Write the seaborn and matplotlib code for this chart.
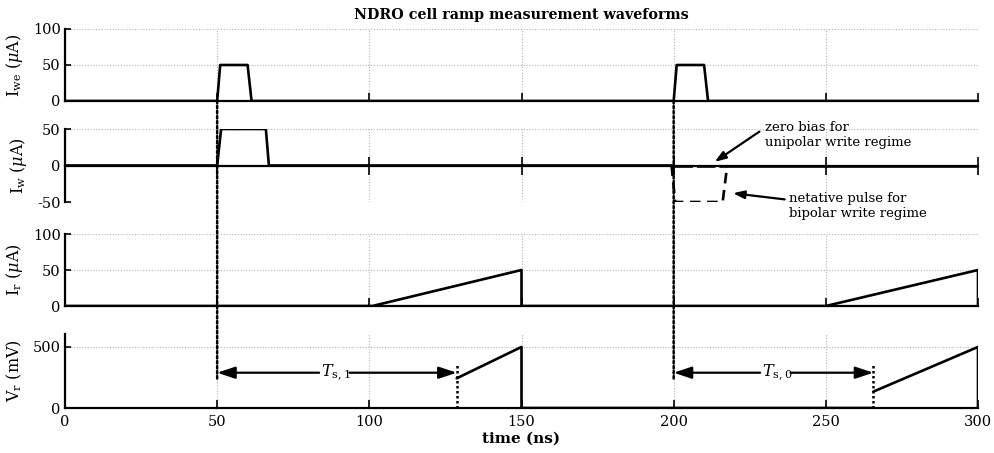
import numpy as np
import pandas as pd
import matplotlib
matplotlib.use("Agg")
import matplotlib.pyplot as plt
from matplotlib.patches import ConnectionPatch
import seaborn as sns

# ---- waveform data (time in ns) ----
t_we = [0, 50, 51, 60, 61.3, 200, 201, 210, 211.3, 300]
i_we = [0, 0, 50, 50, 0, 0, 50, 50, 0, 0]

t_w_a = [0, 50, 51.3, 66, 67, 200]
i_w_a = [0, 0, 50, 50, 0, 0]
t_w_b = [217.6, 300]
i_w_b = [0, 0]

t_w_zero = [200, 217.6]
i_w_zero = [0, 0]
t_w_neg = [199.3, 200.5, 216.1, 217.6]
i_w_neg = [0, -50, -50, 0]

t_r = [0, 101, 150, 150, 250, 300, 300]
i_r = [0, 0, 50, 0, 0, 50, 0]

t_v = [0, 128.7, 128.7, 150, 150, 265.6, 265.6, 300, 300]
v_r = [0, 0, 243, 500, 0, 0, 134, 500, 0]
seg_v = [0, 0, 1, 1, 1, 1, 2, 2, 2]

t_sense = [128.7, 265.6]
sense_labels = [r"$T_{\mathrm{s,1}}$", r"$T_{\mathrm{s,0}}$"]
label_pos = [89, 233.9]
t_write = [50, 200]

x_ticks = [0, 50, 100, 150, 200, 250, 300]

sns.set_theme(style="white")
plt.rcParams["font.family"] = ["DejaVu Serif"]
plt.rcParams["mathtext.fontset"] = "dejavuserif"
for key in ("text.color", "axes.labelcolor", "xtick.color", "ytick.color"):
    plt.rcParams[key] = "black"

fig = plt.figure(figsize=(9.94, 4.53), dpi=100)
W, H = 994, 453


def add_ax(top_px, bot_px):
    left, right = 65, 978
    return fig.add_axes([left / W, 1 - bot_px / H, (right - left) / W, (bot_px - top_px) / H])


ax1 = add_ax(29, 101)
ax2 = add_ax(129, 202)
ax3 = add_ax(234, 306)
ax4 = add_ax(334, 408)
axes = [ax1, ax2, ax3, ax4]

line_kw = dict(color="black", linewidth=1.9, estimator=None, sort=False, legend=False)

sns.lineplot(x=t_we, y=i_we, ax=ax1, **line_kw)

sns.lineplot(x=t_w_a, y=i_w_a, ax=ax2, **line_kw)
sns.lineplot(x=t_w_b, y=i_w_b, ax=ax2, **line_kw)
sns.lineplot(x=t_w_zero, y=i_w_zero, ax=ax2, color="black", linewidth=1.9,
             estimator=None, sort=False, legend=False, linestyle=(0, (7, 1.5)))
sns.lineplot(x=t_w_neg, y=i_w_neg, ax=ax2, color="black", linewidth=1.9,
             estimator=None, sort=False, legend=False, linestyle=(0, (4, 2.5)))

sns.lineplot(x=t_r, y=i_r, ax=ax3, **line_kw)

df_v = pd.DataFrame({"t": t_v, "v": v_r, "seg": seg_v})
for s in (0, 1, 2):
    sns.lineplot(data=df_v[df_v.seg == s], x="t", y="v", ax=ax4, **line_kw)

ylims = [(0, 100), (-50, 50), (0, 100), (0, 606)]
yticks = [[0, 50, 100], [-50, 0, 50], [0, 50, 100], [0, 500]]
ylabels = [r"I$_{\mathrm{we}}$ ($\mu$A)", r"I$_{\mathrm{w}}$ ($\mu$A)",
           r"I$_{\mathrm{r}}$ ($\mu$A)", r"V$_{\mathrm{r}}$ (mV)"]

for i, ax in enumerate(axes):
    ax.set_xlim(0, 300)
    ax.set_ylim(*ylims[i])
    ax.set_xticks(x_ticks)
    ax.set_yticks(yticks[i])
    ax.set_yticklabels([str(v) for v in yticks[i]], fontsize=10.5)
    ax.grid(True, color="#b5b5b5", linestyle=(0, (1, 1.5)), linewidth=0.8)
    ax.set_axisbelow(True)
    for side in ("top", "right"):
        ax.spines[side].set_visible(False)
    ax.spines["left"].set_color("black")
    ax.spines["left"].set_linewidth(1.6)
    ax.spines["bottom"].set_position(("data", 0))
    ax.spines["bottom"].set_color("black")
    ax.spines["bottom"].set_linewidth(1.6)
    ax.tick_params(axis="y", left=True, direction="in", length=4, width=1.2,
                   color="black", pad=3)
    if i == 1:
        ax.tick_params(axis="x", bottom=True, direction="inout", length=13, width=1.2,
                       color="black")
    else:
        ax.tick_params(axis="x", bottom=True, direction="in", length=6, width=1.2,
                       color="black")
    ax.set_xlabel("")
    ax.set_ylabel(ylabels[i], fontsize=11.5, labelpad=6)
    if i < 3:
        ax.tick_params(axis="x", labelbottom=False)
    ax.set_facecolor("none")

ax4.set_xticklabels([str(v) for v in x_ticks], fontsize=10.5)
ax4.tick_params(axis="x", pad=5)
ax4.set_xlabel("time (ns)", fontsize=11, fontweight="bold", labelpad=2)
fig.align_ylabels(axes)

fig.suptitle("NDRO cell ramp measurement waveforms", fontsize=10.3, fontweight="bold",
             x=(65 + 978) / 2 / W, y=0.982)

# dotted write-time markers running through all panels
for tw in t_write:
    con = ConnectionPatch(xyA=(tw, 0), coordsA=ax1.transData,
                          xyB=(tw, 225), coordsB=ax4.transData,
                          linestyle=(0, (1, 1)), linewidth=1.8, color="black")
    fig.add_artist(con)

# dotted sense-time markers in the V_r panel
for ts in t_sense:
    ax4.plot([ts, ts], [0, 370], color="black", linestyle=(0, (1, 1)), linewidth=1.8)

arrow_kw = dict(arrowstyle="-|>,head_length=0.9,head_width=0.3", color="black", lw=1.6,
                shrinkA=0, shrinkB=0)
y_arrow = 289
for tw, ts, lab, mid in zip(t_write, t_sense, sense_labels, label_pos):
    ax4.text(mid, y_arrow, lab, ha="center", va="center", fontsize=11.5)
    ax4.annotate("", xy=(tw, y_arrow), xytext=(mid - 5.5, y_arrow), arrowprops=arrow_kw)
    ax4.annotate("", xy=(ts, y_arrow), xytext=(mid + 4.5, y_arrow), arrowprops=arrow_kw)

# notes on the I_w panel
ax2.annotate("zero bias for\nunipolar write regime", xy=(213.5, 5), xytext=(230, 42),
             fontsize=9.5, ha="left", va="center", annotation_clip=False,
             arrowprops=dict(arrowstyle="-|>,head_length=0.7,head_width=0.25", color="black",
                             lw=1.6, shrinkA=2, shrinkB=0, relpos=(0, 0.75)))
ax2.annotate("netative pulse for\nbipolar write regime", xy=(219.5, -38), xytext=(238, -56),
             fontsize=9.5, ha="left", va="center", annotation_clip=False,
             arrowprops=dict(arrowstyle="-|>,head_length=0.7,head_width=0.25", color="black",
                             lw=1.6, shrinkA=1, shrinkB=0, relpos=(0, 0.73)))

fig.savefig("out.png", dpi=100)
